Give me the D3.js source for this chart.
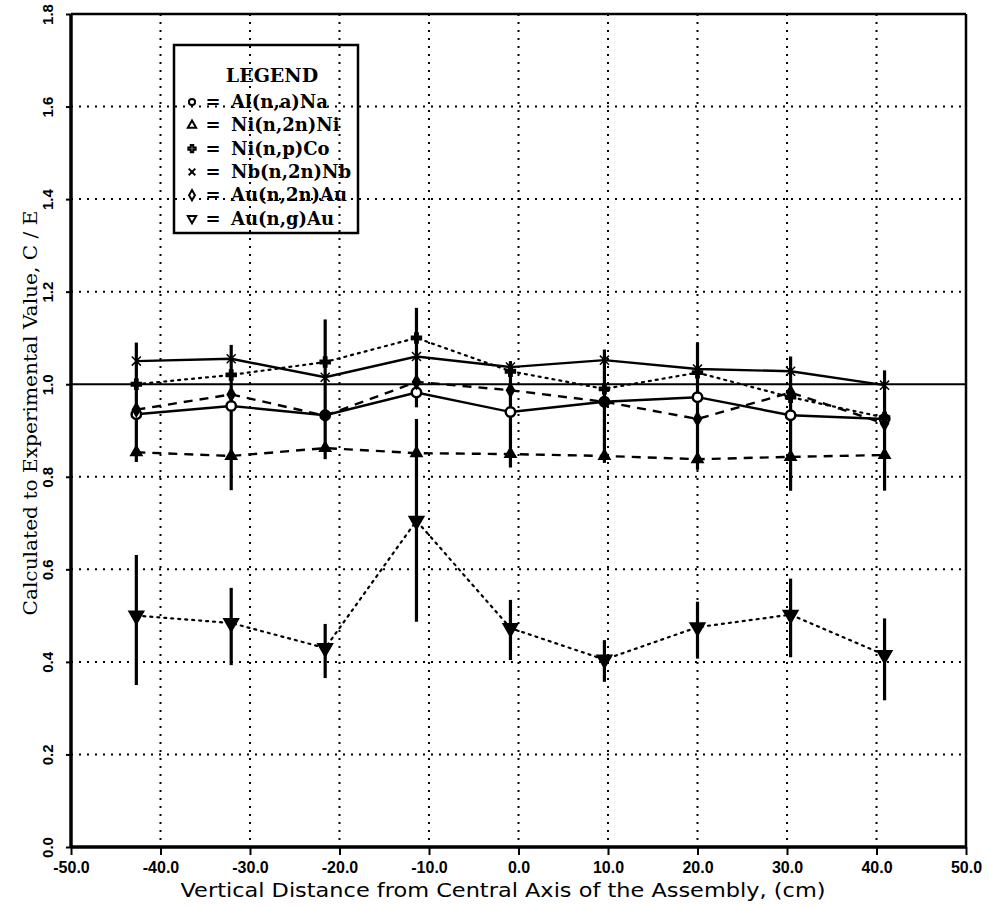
<!DOCTYPE html>
<html><head><meta charset="utf-8">
<script src="https://cdn.jsdelivr.net/npm/d3@7/dist/d3.min.js"></script>
<style>body{margin:0;background:#fff}svg{display:block}</style>
</head><body><svg id="c" width="989" height="908"></svg>
<script>
// ---- data ----
const xPositions = [-42.7, -32.1, -21.6, -11.4, -0.9, 9.6, 20.0, 30.4, 40.9];
const seriesNames = ["Al(n,a)Na", "Ni(n,2n)Ni", "Ni(n,p)Co", "Nb(n,2n)Nb", "Au(n,2n)Au", "Au(n,g)Au"];
const alNa   = [0.935, 0.953, 0.933, 0.982, 0.940, 0.962, 0.972, 0.933, 0.925];
const ni2n   = [0.853, 0.845, 0.862, 0.851, 0.849, 0.845, 0.838, 0.843, 0.847];
const nipCo  = [1.000, 1.020, 1.048, 1.100, 1.028, 0.990, 1.025, 0.972, 0.928];
const nb2n   = [1.050, 1.055, 1.015, 1.060, 1.037, 1.052, 1.033, 1.028, 0.998];
const au2n   = [0.945, 0.978, 0.932, 1.005, 0.987, 0.962, 0.925, 0.982, 0.915];
const auG    = [0.500, 0.484, 0.430, 0.705, 0.473, 0.405, 0.475, 0.502, 0.415];
const clusterErrTop    = [1.090, 1.085, 1.140, 1.165, 1.050, 1.075, 1.090, 1.060, 1.030];
const clusterErrBottom = [0.832, 0.771, 0.838, 0.950, 0.820, 0.830, 0.815, 0.770, 0.770];
const auGErrTop    = [0.631, 0.560, 0.482, 0.925, 0.534, 0.447, 0.530, 0.580, 0.494];
const auGErrBottom = [0.350, 0.393, 0.365, 0.487, 0.404, 0.357, 0.407, 0.410, 0.317];
const xTicks = [-50, -40, -30, -20, -10, 0, 10, 20, 30, 40, 50];
const yTicks = [0, 0.2, 0.4, 0.6, 0.8, 1.0, 1.2, 1.4, 1.6, 1.8];
const xTitle = "Vertical Distance from Central Axis of the Assembly, (cm)";
const yTitle = "Calculated to Experimental Value, C / E";

// ---- chart ----
const svg = d3.select("#c");
const L = 71, R = 966, T = 14, B = 847;
const x = d3.scaleLinear().domain([-50, 50]).range([L, R]);
const y = d3.scaleLinear().domain([0, 1.8]).range([B, T]);

const seriesVals = [alNa, ni2n, nipCo, nb2n, au2n, auG];
const dashes = [null, "9,7", "2,5", null, "9,7", "2,5"];
const symbols = [d3.symbolCircle, d3.symbolTriangle, d3.symbolCross, d3.symbolX, d3.symbolDiamond, d3.symbolTriangle];

// grid
const g = svg.append("g");
g.selectAll(".gx").data(xTicks.slice(1, -1)).join("line")
  .attr("x1", d => x(d)).attr("x2", d => x(d)).attr("y1", T).attr("y2", B)
  .attr("stroke", "#000").attr("stroke-width", 2).attr("stroke-dasharray", "2,6");
g.selectAll(".gy").data(yTicks.filter(d => d > 0 && d < 1.8 && d !== 1.0)).join("line")
  .attr("y1", d => y(d)).attr("y2", d => y(d)).attr("x1", L).attr("x2", R)
  .attr("stroke", "#000").attr("stroke-width", 2).attr("stroke-dasharray", "2,6");
// reference line at 1.0
svg.append("line").attr("x1", L).attr("x2", R).attr("y1", y(1)).attr("y2", y(1))
  .attr("stroke", "#000").attr("stroke-width", 2);

// error bars
const eg = svg.append("g").attr("stroke", "#000").attr("stroke-width", 3.2);
xPositions.forEach((xv, i) => {
  eg.append("line").attr("x1", x(xv)).attr("x2", x(xv)).attr("y1", y(clusterErrTop[i])).attr("y2", y(clusterErrBottom[i]));
  eg.append("line").attr("x1", x(xv)).attr("x2", x(xv)).attr("y1", y(auGErrTop[i])).attr("y2", y(auGErrBottom[i]));
});

// series lines
const line = d3.line().x((d, i) => x(xPositions[i])).y(d => y(d));
seriesVals.forEach((vals, k) => {
  svg.append("path").datum(vals).attr("d", line)
    .attr("fill", "none").attr("stroke", "#000")
    .attr("stroke-width", dashes[k] === "2,5" ? 2.2 : 2.4)
    .attr("stroke-linecap", dashes[k] === "2,5" ? "round" : "butt")
    .attr("stroke-dasharray", dashes[k]);
});

// markers
seriesVals.forEach((vals, k) => {
  const sym = d3.symbol().type(symbols[k]).size(k === 5 ? 95 : (k === 0 ? 70 : 55));
  svg.append("g").selectAll("path").data(vals).join("path")
    .attr("d", sym)
    .attr("transform", (d, i) => `translate(${x(xPositions[i])},${y(d)})` + (k === 5 ? " rotate(180)" : ""))
    .attr("fill", k === 0 ? "#fff" : "#000")
    .attr("stroke", "#000").attr("stroke-width", k === 0 ? 2.5 : 1.5);
});

// frame
svg.append("line").attr("x1", L).attr("x2", L).attr("y1", T).attr("y2", B + 1).attr("stroke", "#000").attr("stroke-width", 3.5);
svg.append("line").attr("x1", L).attr("x2", R).attr("y1", B).attr("y2", B).attr("stroke", "#000").attr("stroke-width", 3.5);
svg.append("line").attr("x1", L).attr("x2", R).attr("y1", T).attr("y2", T).attr("stroke", "#000").attr("stroke-width", 2.5);
svg.append("line").attr("x1", R).attr("x2", R).attr("y1", T).attr("y2", B).attr("stroke", "#000").attr("stroke-width", 2.5);

// axes
const xAxis = d3.axisBottom(x).tickValues(xTicks).tickSize(8).tickFormat(d3.format(".1f"));
const xa = svg.append("g").attr("transform", `translate(0,${B})`).call(xAxis);
xa.select(".domain").remove();
xa.selectAll(".tick line").attr("stroke-width", 2);
xa.selectAll(".tick text").attr("font-family", "Liberation Sans, Arial, sans-serif")
  .attr("font-weight", "bold").style("font-size", "16px").attr("dy", "0.95em")
  .text(d => d3.format(".1f")(d).replace("\u2212", "-"));

const yAxis = d3.axisLeft(y).tickValues(yTicks).tickSize(5).tickFormat(d3.format(".1f"));
const ya = svg.append("g").attr("transform", `translate(${L},0)`).call(yAxis);
ya.select(".domain").remove();
ya.selectAll(".tick line").attr("stroke-width", 2);
ya.selectAll(".tick text").attr("font-family", "Liberation Sans, Arial, sans-serif")
  .attr("font-weight", "bold").style("font-size", "15px")
  .attr("x", 0).attr("dy", 0).attr("text-anchor", "middle")
  .attr("transform", "translate(-18,0) rotate(-90)");

// titles
svg.append("text").attr("x", 503).attr("y", 897).attr("text-anchor", "middle")
  .attr("font-family", "DejaVu Sans, sans-serif").style("font-size", "19px")
  .attr("textLength", 645).attr("lengthAdjust", "spacingAndGlyphs").text(xTitle);
svg.append("text").attr("transform", "translate(37,413) rotate(-90)").attr("text-anchor", "middle")
  .attr("font-family", "DejaVu Serif, serif").style("font-size", "19px")
  .attr("textLength", 405).attr("lengthAdjust", "spacingAndGlyphs").text(yTitle);

// legend
const lg = svg.append("g");
lg.append("rect").attr("x", 174).attr("y", 45).attr("width", 184).attr("height", 188)
  .attr("fill", "none").attr("stroke", "#000").attr("stroke-width", 2.5);
lg.append("text").attr("x", 272).attr("y", 82).attr("text-anchor", "middle")
  .attr("font-family", "DejaVu Serif, serif").attr("font-weight", "bold").style("font-size", "19px").text("LEGEND");
seriesNames.forEach((name, k) => {
  const by = 108 + k * 23.3;
  const sym = d3.symbol().type(symbols[k]).size(30);
  lg.append("path").attr("d", sym)
    .attr("transform", `translate(192,${by - 6})` + (k === 5 ? " rotate(180)" : ""))
    .attr("fill", "none").attr("stroke", "#000").attr("stroke-width", 2);
  lg.append("text").attr("x", 213).attr("y", by).attr("text-anchor", "middle")
    .attr("font-family", "DejaVu Serif, serif").attr("font-weight", "bold").style("font-size", "18px").text("=");
  lg.append("text").attr("x", 231).attr("y", by)
    .attr("font-family", "DejaVu Serif, serif").style("font-size", "18px").attr("font-weight", "bold").text(name);
});
</script>
</body></html>
